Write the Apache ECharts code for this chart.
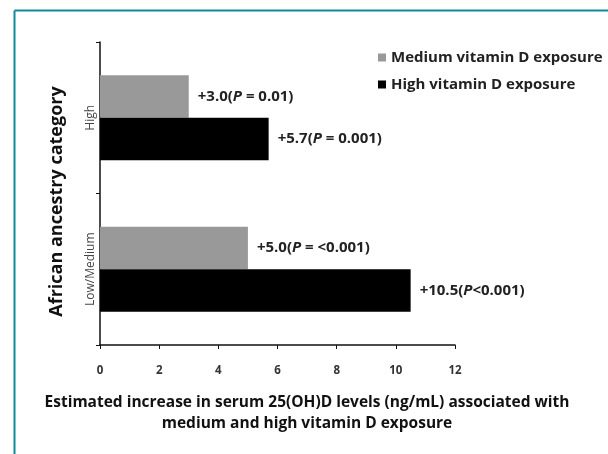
<!DOCTYPE html>
<html>
<head>
<meta charset="utf-8">
<script src="https://cdn.jsdelivr.net/npm/echarts@6/dist/echarts.min.js"></script>
<style>
  html, body { margin: 0; padding: 0; background: #fff; }
  #chart { width: 608px; height: 454px; }
</style>
</head>
<body>
<div id="chart"></div>
<script>
// categories bottom -> top (category axis on y grows upward)
const categories = ["Low/Medium", "High"];
const mediumValues = [5.0, 3.0];
const highValues = [10.5, 5.7];
const mediumP = [" = <0.001", " = 0.01"];
const highP = ["<0.001", " = 0.001"];
const xTicks = [0, 2, 4, 6, 8, 10, 12];

const font = "'Open Sans', Lato, sans-serif";

const labelFor = (pList) => ({
  show: true,
  position: "right",
  distance: 9,
  color: "#222",
  fontFamily: font,
  fontSize: 15,
  fontWeight: "bold",
  formatter: (p) => "+" + p.value.toFixed(1) + "({i|P}" + pList[p.dataIndex] + ")",
  rich: {
    i: { fontStyle: "italic", fontWeight: "bold", fontFamily: font, fontSize: 15, color: "#222" },
  },
});

const chart = echarts.init(document.getElementById("chart"));
chart.setOption({
  animation: false,
  backgroundColor: "#fff",
  graphic: [
    { type: "line", shape: { x1: 14.5, y1: 10.5, x2: 608, y2: 10.5 }, style: { stroke: "#12899a", lineWidth: 2 } },
    { type: "line", shape: { x1: 14.5, y1: 10.5, x2: 14.5, y2: 454 }, style: { stroke: "#12899a", lineWidth: 2 } },
  ],
  title: {
    text: "Estimated increase in serum 25(OH)D levels (ng/mL) associated with\nmedium and high vitamin D exposure",
    left: 302,
    top: 387,
    textAlign: "center",
    textStyle: { fontFamily: font, fontSize: 15.5, fontWeight: "bold", color: "#111", lineHeight: 21 },
  },
  legend: {
    orient: "vertical",
    left: 373,
    top: 45,
    itemWidth: 8,
    itemHeight: 8,
    itemGap: 12,
    icon: "rect",
    textStyle: { fontFamily: font, fontSize: 15, fontWeight: "bold", color: "#222" },
    data: ["Medium vitamin D exposure", "High vitamin D exposure"],
  },
  grid: { left: 100, right: 153, top: 42, bottom: 109 },
  xAxis: {
    type: "value",
    min: 0,
    max: 12,
    interval: 2,
    axisLine: { show: true, lineStyle: { color: "#111", width: 1.5 } },
    axisTick: { show: true, length: 4, inside: false, lineStyle: { color: "#111" } },
    splitLine: { show: false },
    axisLabel: { fontFamily: font, fontSize: 11.5, fontWeight: "bold", color: "#333", margin: 20,
      formatter: (v) => (xTicks.includes(v) ? String(v) : "") },
  },
  yAxis: {
    type: "category",
    data: categories,
    name: "African ancestry category",
    nameLocation: "middle",
    nameGap: 34,
    nameTextStyle: { fontFamily: font, fontSize: 18, fontWeight: "bold", color: "#111", padding: [0, 16, 0, 0] },
    axisLine: { show: true, lineStyle: { color: "#111", width: 1.5 } },
    axisTick: { show: true, length: 4, lineStyle: { color: "#111" } },
    axisLabel: { rotate: 90, fontFamily: font, fontSize: 12, color: "#444", margin: 3 },
  },
  series: [
    {
      name: "Medium vitamin D exposure",
      type: "bar",
      data: mediumValues,
      itemStyle: { color: "#999999" },
      barGap: "0%",
      barCategoryGap: "44%",
      label: labelFor(mediumP),
    },
    {
      name: "High vitamin D exposure",
      type: "bar",
      data: highValues,
      itemStyle: { color: "#000000" },
      barGap: "0%",
      barCategoryGap: "44%",
      label: labelFor(highP),
    },
  ],
});
</script>
</body>
</html>
